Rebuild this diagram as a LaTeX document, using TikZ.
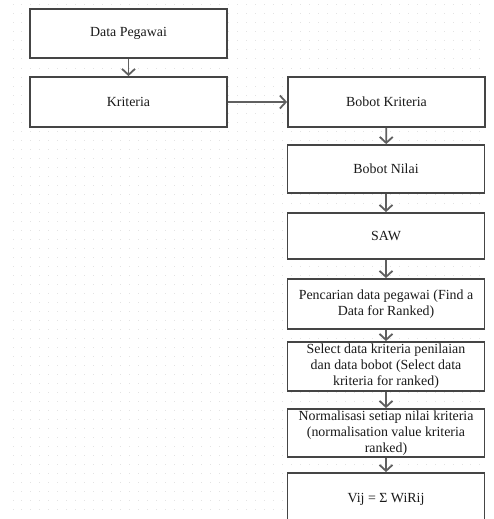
\documentclass[tikz,border=0pt]{standalone}
\usepackage{fontspec}
\setmainfont{Liberation Serif}
\usetikzlibrary{arrows.meta}
\definecolor{boxline}{HTML}{454545}
\definecolor{arrowline}{HTML}{606060}
\definecolor{griddot}{HTML}{E3E3E3}
\definecolor{txt}{HTML}{1A1A1A}
\tikzset{
  flowbox/.style={draw=boxline, fill=white, line width=1.8pt, minimum width=197pt,
    inner sep=0pt, align=center, text=txt,
    font=\fontsize{13.9}{16}\selectfont},
  flowarrow/.style={draw=arrowline, line width=1.8pt,
    -{Straight Barb[length=6pt,width=13pt,line width=1.8pt]}}
}
\begin{document}
\begin{tikzpicture}[x=1pt,y=-1pt]
\useasboundingbox (0,0) rectangle (493,519);
\clip (0,0) rectangle (493,519);
% dotted background grid
\foreach \i in {0,...,52}{
  \foreach \j in {0,...,56}{
    \fill[griddot] ({13+8.98*\i-0.5},{5+9*\j-0.5}) rectangle ++(1.0,1.0);
  }
}
\node[flowbox, minimum height=49pt] (dp) at (128.5,33.5) {Data Pegawai};
\node[flowbox, minimum height=50pt] (kr) at (128.5,102) {Kriteria};
\node[flowbox, minimum height=50pt] (bk) at (386.5,102) {Bobot Kriteria};
\node[flowbox, minimum height=48pt] (bn) at (386,169) {Bobot Nilai};
\node[flowbox, minimum height=46pt] (saw) at (386,236) {SAW};
\node[flowbox, minimum height=50pt] (pc) at (386,304) {Pencarian data pegawai (Find a\\Data for Ranked)};
\node[flowbox, minimum height=49pt] (sel) at (386,366.5) {Select data kriteria penilaian\\dan data bobot (Select data\\kriteria for ranked)};
\node[flowbox, minimum height=48pt] (nor) at (386,433) {Normalisasi setiap nilai kriteria\\(normalisation value kriteria\\ranked)};
\node[flowbox, minimum height=52pt] (vij) at (386,499) {Vij = Σ WiRij};
\draw[flowarrow] (dp) -- (kr);
\draw[flowarrow] (kr) -- (bk);
\draw[flowarrow] (bk) -- (bn);
\draw[flowarrow] (bn) -- (saw);
\draw[flowarrow] (saw) -- (pc);
\draw[flowarrow] (pc) -- (sel);
\draw[flowarrow] (sel) -- (nor);
\draw[flowarrow] (nor) -- (vij);
\end{tikzpicture}
\end{document}
